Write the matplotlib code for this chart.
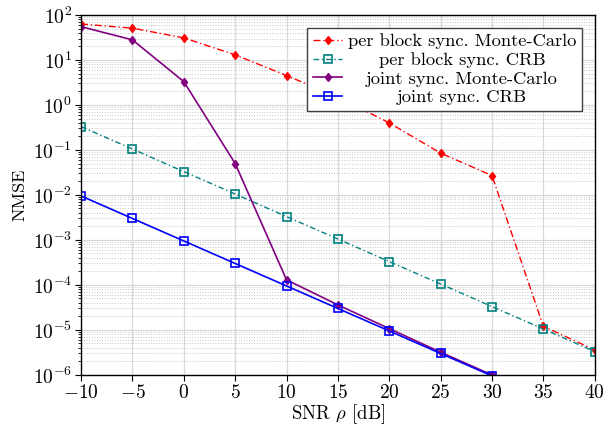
import matplotlib
matplotlib.use("Agg")
import matplotlib.pyplot as plt
from matplotlib.ticker import FuncFormatter, LogLocator, FixedLocator, LogFormatterSciNotation

plt.rcParams['font.family'] = 'serif'
plt.rcParams['font.serif'] = ['cmr10']
plt.rcParams['mathtext.fontset'] = 'cm'
plt.rcParams['axes.formatter.use_mathtext'] = True
plt.rcParams['axes.unicode_minus'] = False

snr = [-10, -5, 0, 5, 10, 15, 20, 25, 30, 35, 40]
snr_joint = [-10, -5, 0, 5, 10, 15, 20, 25, 30]

pb_mc = [63, 51, 31, 13, 4.5, 1.5, 0.4, 0.085, 0.027, 1.2e-5, 3.6e-6]
pb_crb = [0.33, 0.105, 0.033, 0.0105, 0.0033, 0.00105, 3.3e-4, 1.05e-4, 3.3e-5, 1.05e-5, 3.3e-6]
j_mc = [55, 28, 3.3, 0.05, 1.3e-4, 3.6e-5, 1.07e-5, 3.2e-6, 1.0e-6]
j_crb = [0.0095, 0.003, 9.5e-4, 3.0e-4, 9.5e-5, 3.0e-5, 9.5e-6, 3.0e-6, 9.5e-7]

y_ticks = [1e-6, 1e-5, 1e-4, 1e-3, 1e-2, 1e-1, 1e0, 1e1, 1e2]

labels = ['per block sync. Monte-Carlo', 'per block sync. CRB',
          'joint sync. Monte-Carlo', 'joint sync. CRB']

fig = plt.figure(figsize=(6.05, 4.28), dpi=100)
ax = fig.add_axes([0.134, 0.124, 0.849, 0.841])

ax.semilogy(snr, pb_mc, color='red', linestyle=(0, (5, 2, 1, 2)), lw=1.0,
            marker='d', ms=4.5, mfc='red', mec='red', label=labels[0])
ax.semilogy(snr, pb_crb, color='#008080', linestyle=(0, (4, 2, 1, 2)), lw=1.0,
            marker='s', ms=5.5, mfc='none', mec='#008080', mew=1.2, label=labels[1])
ax.semilogy(snr_joint, j_mc, color='#800080', linestyle='-', lw=1.2,
            marker='d', ms=4.5, mfc='#800080', mec='#800080', label=labels[2])
ax.semilogy(snr_joint, j_crb, color='blue', linestyle='-', lw=1.2,
            marker='s', ms=5.5, mfc='none', mec='blue', mew=1.2, label=labels[3])

ax.set_xlim(-10, 40)
ax.set_ylim(1e-6, 1e2)
ax.xaxis.set_major_locator(FixedLocator(list(range(-10, 41, 5))))
ax.xaxis.set_major_formatter(FuncFormatter(lambda v, p: '$%d$' % int(round(v))))
ax.yaxis.set_major_locator(FixedLocator(y_ticks))
ax.yaxis.set_major_formatter(LogFormatterSciNotation())
ax.yaxis.set_minor_locator(LogLocator(base=10, subs=range(2, 10), numticks=100))

ax.grid(True, which='major', color='#d8d8d8', linestyle='-', lw=0.9)
ax.grid(True, which='minor', axis='y', color='#c8c8c8', linestyle=':', lw=0.7)
ax.set_axisbelow(True)

ax.tick_params(axis='both', which='major', labelsize=14, length=4, width=0.8, pad=2.5)
ax.tick_params(axis='y', which='minor', length=2, width=0.6)
for s in ax.spines.values():
    s.set_linewidth(1.0)

ax.set_xlabel(r'SNR $\rho$ $[\mathrm{dB}]$', fontsize=13.5, labelpad=0)
ax.set_ylabel('NMSE', fontsize=13, labelpad=4)

leg = ax.legend(loc='upper right', fontsize=13.3, fancybox=False, edgecolor='#404040',
                framealpha=1, borderpad=0.3, labelspacing=0.15, handlelength=1.6,
                handletextpad=0.3, borderaxespad=0.7)
leg.get_frame().set_linewidth(1.0)
fig.canvas.draw()
renderer = fig.canvas.get_renderer()
shift = max(t.get_window_extent(renderer).width for t in leg.get_texts())
for t in leg.get_texts():
    w = t.get_window_extent(renderer).width
    t.set_ha('center')
    t.set_position((shift / 2 - w / 2, 0))

fig.savefig('out.png', dpi=100)
